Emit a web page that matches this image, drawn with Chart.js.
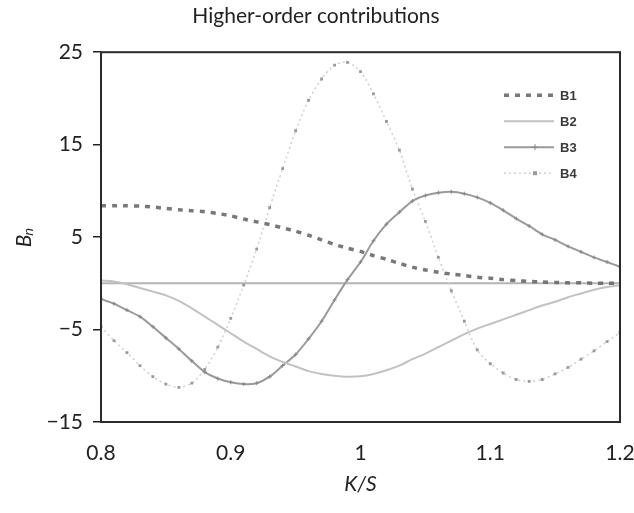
<!DOCTYPE html>
<html>
<head>
<meta charset="utf-8">
<script src="https://cdn.jsdelivr.net/npm/chart.js@4/dist/chart.umd.min.js"></script>
<style>
  html, body { margin: 0; padding: 0; background: #fff; }
  canvas { display: block; }
</style>
</head>
<body>
<canvas id="chart" width="634" height="513"></canvas>
<script>
// values, K/S from 0.80 to 1.20
const kOverS = [0.80, 0.81, 0.82, 0.83, 0.84, 0.85, 0.86, 0.87, 0.88, 0.89,
  0.90, 0.91, 0.92, 0.93, 0.94, 0.95, 0.96, 0.97, 0.98, 0.99,
  1.00, 1.01, 1.02, 1.03, 1.04, 1.05, 1.06, 1.07, 1.08, 1.09,
  1.10, 1.11, 1.12, 1.13, 1.14, 1.15, 1.16, 1.17, 1.18, 1.19, 1.20];

const b1 = [8.4, 8.4, 8.4, 8.35, 8.25, 8.1, 7.95, 7.85, 7.75, 7.55,
  7.3, 6.95, 6.65, 6.35, 6.0, 5.65, 5.2, 4.7, 4.2, 3.8,
  3.45, 3.0, 2.6, 2.15, 1.75, 1.45, 1.2, 1.0, 0.85, 0.65,
  0.55, 0.4, 0.3, 0.2, 0.15, 0.1, 0.05, 0.05, 0.0, 0.0, 0.0];

const b2 = [0.3, 0.2, -0.1, -0.5, -0.9, -1.3, -1.9, -2.7, -3.6, -4.5,
  -5.4, -6.3, -7.1, -7.9, -8.5, -9.0, -9.5, -9.8, -10.0, -10.1,
  -10.05, -9.8, -9.4, -8.9, -8.2, -7.6, -6.9, -6.2, -5.5, -4.9,
  -4.4, -3.9, -3.4, -2.9, -2.4, -2.0, -1.5, -1.1, -0.7, -0.4, -0.2];

const b3 = [-1.7, -2.2, -2.9, -3.6, -4.7, -5.9, -7.1, -8.4, -9.6, -10.3,
  -10.7, -10.9, -10.8, -10.1, -8.9, -7.7, -6.0, -4.1, -1.8, 0.4,
  2.3, 4.6, 6.4, 7.7, 8.9, 9.5, 9.8, 9.9, 9.7, 9.3,
  8.7, 7.9, 7.0, 6.2, 5.3, 4.7, 4.0, 3.4, 2.8, 2.3, 1.8];

const b4 = [-4.7, -6.2, -7.5, -8.9, -10.1, -10.9, -11.25, -10.8, -9.3, -6.9,
  -3.8, -0.2, 3.7, 8.2, 12.4, 16.5, 19.8, 22.1, 23.6, 23.9,
  22.9, 20.5, 17.5, 14.4, 10.2, 6.7, 2.8, -0.8, -4.1, -7.2,
  -8.7, -9.7, -10.4, -10.6, -10.4, -9.8, -9.1, -8.2, -7.3, -6.3, -5.3];

const seriesNames = ["B1", "B2", "B3", "B4"];
const xTicks = { min: 0.8, max: 1.2, step: 0.1 };
const yTicks = { min: -15, max: 25, step: 10 };

const FONT = "Lato, 'Open Sans', 'DejaVu Sans', sans-serif";

function pts(values) {
  return kOverS.map((k, i) => ({ x: k, y: values[i] }));
}

// plot frame + horizontal axis line at zero
const framePlugin = {
  id: "frame",
  beforeDatasetsDraw(chart) {
    const { ctx, chartArea: a, scales } = chart;
    const y0 = scales.y.getPixelForValue(0);
    ctx.save();
    ctx.strokeStyle = "#b4b4b4";
    ctx.lineWidth = 2;
    ctx.beginPath();
    ctx.moveTo(a.left, y0);
    ctx.lineTo(a.right, y0);
    ctx.stroke();
    ctx.restore();
  },
  afterDraw(chart) {
    const { ctx, chartArea: a } = chart;
    ctx.save();
    ctx.strokeStyle = "#2b2b2b";
    ctx.lineWidth = 2;
    ctx.strokeRect(a.left, a.top, a.right - a.left, a.bottom - a.top);
    ctx.restore();
  }
};

// legend drawn inside the plot, top right, like the original
const legendPlugin = {
  id: "innerLegend",
  afterDatasetsDraw(chart) {
    const { ctx, chartArea: a } = chart;
    const x1 = a.right - 116, x2 = a.right - 66;
    ctx.save();
    chart.data.datasets.forEach((ds, i) => {
      const y = a.top + 43 + i * 26;
      ctx.strokeStyle = ds.borderColor;
      ctx.lineWidth = ds.borderWidth;
      ctx.setLineDash(ds.borderDash || []);
      ctx.beginPath();
      ctx.moveTo(x1, y);
      ctx.lineTo(x2, y);
      ctx.stroke();
      ctx.setLineDash([]);
      if (ds.pointRadius > 0) {
        const mx = (x1 + x2) / 2 + 6;
        ctx.fillStyle = ds.pointBackgroundColor;
        ctx.strokeStyle = ds.pointBorderColor;
        ctx.lineWidth = 1;
        if (ds.pointStyle === "rect") {
          ctx.fillRect(mx - 2, y - 2, 4, 4);
        } else {
          ctx.beginPath();
          ctx.moveTo(mx - 3, y); ctx.lineTo(mx + 3, y);
          ctx.moveTo(mx, y - 3); ctx.lineTo(mx, y + 3);
          ctx.stroke();
        }
      }
      ctx.fillStyle = "#3a3a3a";
      ctx.font = "bold 13px 'Liberation Sans', Arial, sans-serif";
      ctx.textBaseline = "middle";
      ctx.fillText(ds.label, x2 + 6, y + 1);
    });
    ctx.restore();
  }
};

new Chart(document.getElementById("chart"), {
  type: "line",
  data: {
    datasets: [
      {
        label: seriesNames[0], data: pts(b1),
        borderColor: "rgba(105,105,105,0.9)", borderWidth: 3.5,
        borderDash: [5, 6], pointRadius: 0, tension: 0.2
      },
      {
        label: seriesNames[1], data: pts(b2),
        borderColor: "#c2c2c2", borderWidth: 2,
        pointRadius: 0, tension: 0.3
      },
      {
        label: seriesNames[2], data: pts(b3),
        borderColor: "#9a9a9a", borderWidth: 2,
        pointStyle: "cross", pointRadius: 2,
        pointBorderColor: "#888", pointBackgroundColor: "#888", pointBorderWidth: 1,
        tension: 0.3
      },
      {
        label: seriesNames[3], data: pts(b4),
        borderColor: "#d0d0d0", borderWidth: 1.5, borderDash: [2, 3],
        pointStyle: "rect", pointRadius: 2,
        pointBorderColor: "#9a9a9a", pointBackgroundColor: "#9a9a9a", pointBorderWidth: 0,
        tension: 0.3
      }
    ]
  },
  options: {
    responsive: false,
    animation: false,
    devicePixelRatio: 1,
    layout: { padding: { top: 0, right: 14, left: 12, bottom: 0 } },
    plugins: {
      legend: { display: false },
      tooltip: { enabled: false },
      title: {
        display: true,
        text: "Higher-order contributions",
        color: "#222",
        font: { family: FONT, size: 21, weight: "normal" },
        padding: { top: 4, bottom: 23 }
      }
    },
    scales: {
      x: {
        type: "linear",
        min: xTicks.min, max: xTicks.max,
        afterBuildTicks(scale) {
          const t = [];
          for (let v = xTicks.min; v <= xTicks.max + 1e-9; v += xTicks.step) t.push({ value: +v.toFixed(2) });
          scale.ticks = t;
        },
        ticks: {
          color: "#222", padding: 19,
          font: { family: FONT, size: 21 },
          maxRotation: 0,
          callback: v => String(+v.toFixed(2))
        },
        grid: { display: false, drawTicks: false },
        border: { display: false },
        title: {
          display: true, text: "K/S", color: "#222",
          font: { family: FONT, size: 21, style: "italic" },
          padding: { top: 12, bottom: 16 }
        },
        afterFit(scale) {
          scale.height = 91;
          scale.paddingLeft = 0;
          scale.paddingRight = 0;
        }
      },
      y: {
        min: yTicks.min, max: yTicks.max,
        ticks: {
          stepSize: yTicks.step, color: "#222", padding: 10,
          font: { family: FONT, size: 21 },
          callback: v => String(v).replace("-", "\u2212")
        },
        grid: { drawOnChartArea: false, drawTicks: true, tickLength: 8, color: "#222", lineWidth: 1.5 },
        border: { display: false },
        title: {
          display: true, text: "B\u2099", color: "#222",
          font: { family: FONT, size: 21, style: "italic" },
          padding: { top: 0, bottom: 14 }
        },
        afterFit(scale) {
          scale.width = 89;
          scale.paddingTop = 0;
          scale.paddingBottom = 0;
        }
      }
    }
  },
  plugins: [framePlugin, legendPlugin]
});
</script>
</body>
</html>
